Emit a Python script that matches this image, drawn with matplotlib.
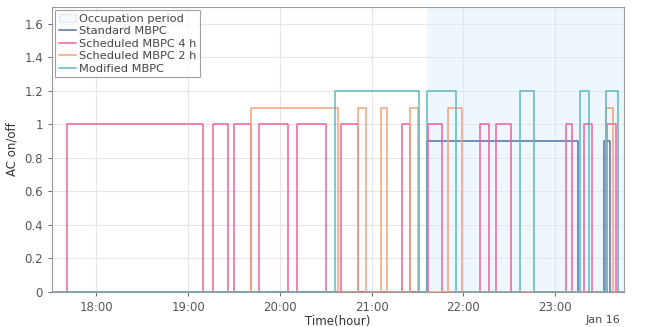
import matplotlib.pyplot as plt
import matplotlib.dates as mdates
from matplotlib.patches import Patch
from datetime import datetime

# ── Data (switching times) ───────────────────────────────────────────────────

DAY = "2017-01-16"
T_START = "17:31"
T_END = "23:45"
OCCUPATION = ("21:36", "23:45")

# on-intervals per controller, each one drawn at its own offset level
standard_on = [("21:36", "23:15"), ("23:32", "23:36")]
sched4_on = [("17:41", "19:10"), ("19:16", "19:26"), ("19:30", "19:41"),
             ("19:46", "20:05"), ("20:11", "20:30"), ("20:40", "20:51"),
             ("21:20", "21:25"), ("21:37", "21:46"), ("22:11", "22:17"),
             ("22:21", "22:31"), ("23:07", "23:11"), ("23:19", "23:24"),
             ("23:34", "23:40")]
sched2_on = [("19:41", "20:38"), ("20:51", "20:56"), ("21:06", "21:10"),
             ("21:25", "21:30"), ("21:50", "21:59"), ("23:33", "23:38")]
modified_on = [("20:36", "21:31"), ("21:36", "21:55"), ("22:37", "22:46"),
               ("23:16", "23:22"), ("23:33", "23:41")]

levels = [0.9, 1.0, 1.1, 1.2]
labels = ["Standard MBPC", "Scheduled MBPC 4 h", "Scheduled MBPC 2 h", "Modified MBPC"]
colors = ["#4c74a8", "#f0609a", "#f4a078", "#5cb8bd"]


def ts(hhmm):
    return datetime.strptime(f"{DAY} {hhmm}", "%Y-%m-%d %H:%M")


def step_series(intervals, level):
    """Turn a list of on-intervals into a steps-post series."""
    times = [ts(T_START)]
    vals = [0]
    for on, off in intervals:
        times += [ts(on), ts(off)]
        vals += [level, 0]
    times.append(ts(T_END))
    vals.append(0)
    return times, vals


# ── Plot ──────────────────────────────────────────────────────────────────────

fig = plt.figure(figsize=(6.59, 3.27), dpi=100)
ax = fig.add_axes([0.079, 0.107, 0.868, 0.872])

ax.axvspan(ts(OCCUPATION[0]), ts(OCCUPATION[1]), color="#eef7fd", lw=0, zorder=0)

series = [standard_on, sched4_on, sched2_on, modified_on]
for intervals, lvl, lab, col in zip(series, levels, labels, colors):
    t, v = step_series(intervals, lvl)
    ax.plot(t, v, drawstyle="steps-post", color=col, lw=1.1, label=lab)

ax.set_xlim(ts(T_START), ts(T_END))
ax.set_ylim(0, 1.7)
ax.set_yticks([0, 0.2, 0.4, 0.6, 0.8, 1.0, 1.2, 1.4, 1.6])
ax.yaxis.set_major_formatter(plt.FormatStrFormatter("%g"))
ax.xaxis.set_major_locator(mdates.HourLocator())
ax.xaxis.set_major_formatter(mdates.DateFormatter("%H:%M"))

ax.grid(True, color="#e6e6e6", lw=0.8)
ax.set_axisbelow(True)
for s in ax.spines.values():
    s.set_color("#9a9a9a")
    s.set_linewidth(0.8)
ax.tick_params(labelsize=8.5, colors="#555555", length=3, width=0.6)

ax.set_xlabel("Time(hour)", fontsize=8.5, color="#333333", labelpad=1)
ax.set_ylabel("AC on/off", fontsize=8.5, color="#333333", labelpad=4)
fig.text(0.915, 0.021, "Jan 16", fontsize=8, color="#4a4a4a", ha="center", va="center")

handles, labs = ax.get_legend_handles_labels()
occ = Patch(facecolor="#f4f9fd", edgecolor="#c8c8c8", linestyle=":", lw=0.8)
leg = ax.legend([occ] + handles, ["Occupation period"] + labs, loc="upper left",
                fontsize=8.2, frameon=True, fancybox=False, edgecolor="#8a8a8a",
                handlelength=1.5, labelspacing=0.22, borderpad=0.3,
                handletextpad=0.3, borderaxespad=0.3)
leg.get_frame().set_linewidth(0.8)
for txt in leg.get_texts():
    txt.set_color("#444444")

fig.savefig("out.png", dpi=100)
